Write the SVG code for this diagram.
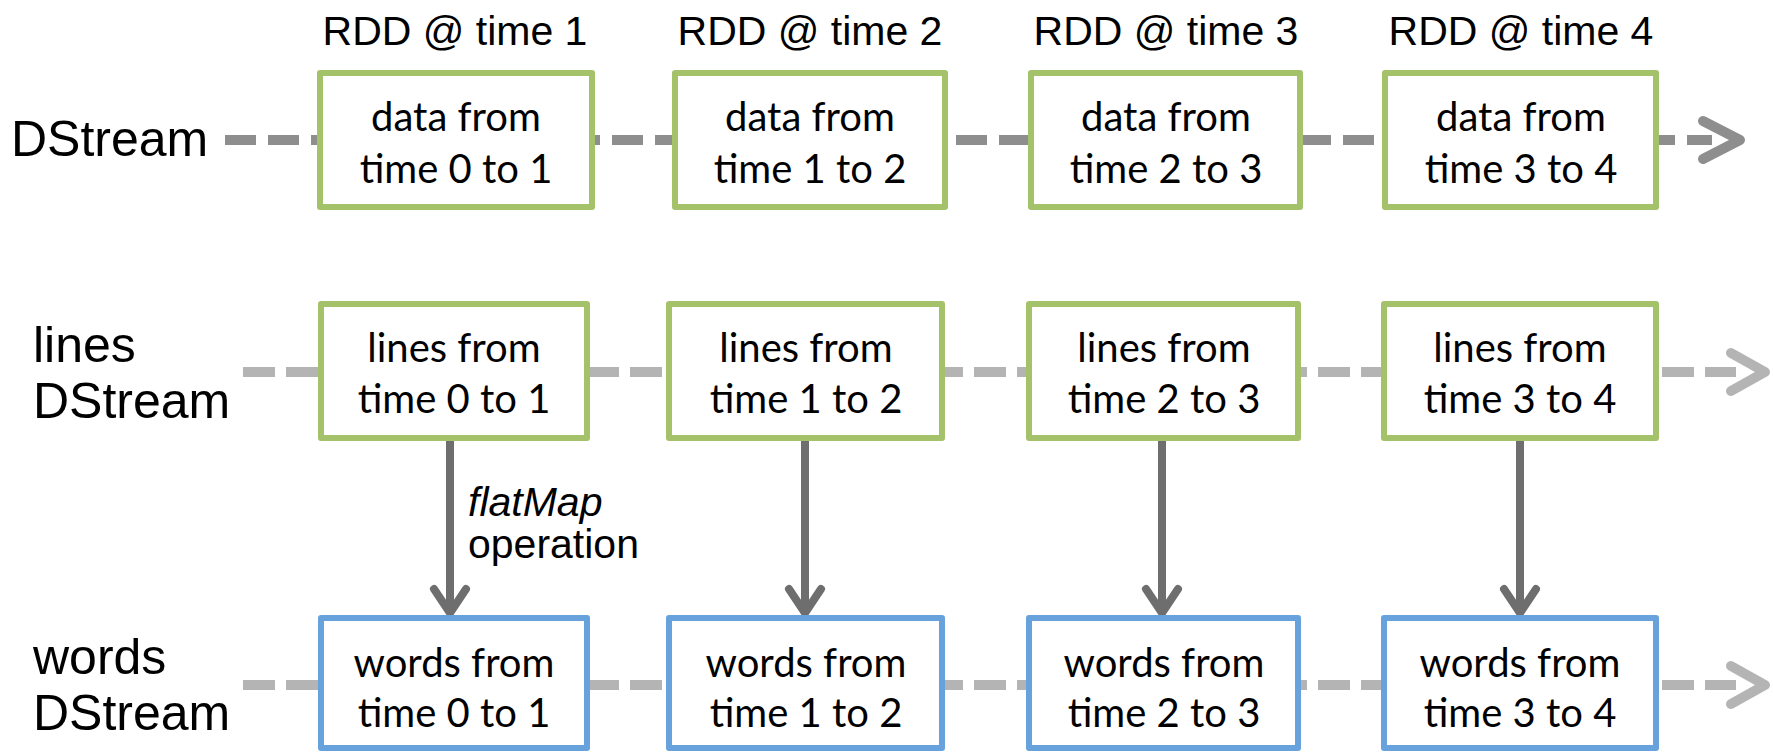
<svg xmlns="http://www.w3.org/2000/svg" width="1773" height="752" viewBox="0 0 1773 752">
  <style>
    .bg { fill: #ffffff; }
    .label { font-family: "Liberation Sans", Arial, sans-serif; font-size: 50px; fill: #000000; }
    .title { font-family: "Liberation Sans", Arial, sans-serif; font-size: 41px; fill: #000000; text-anchor: middle; }
    .op { font-family: "Liberation Sans", Arial, sans-serif; font-size: 41px; fill: #000000; }
    .boxtext { font-family: Lato, "Open Sans", sans-serif; font-size: 40px; fill: #000000; text-anchor: middle; }
    .rdd { fill: #ffffff; stroke: #a4c26a; stroke-width: 6; stroke-linejoin: round; }
    .words { fill: #ffffff; stroke: #67a2dd; stroke-width: 6; stroke-linejoin: round; }
    .stream-dark { fill: none; stroke: #8e8e8e; stroke-width: 10; stroke-dasharray: 31 12; }
    .stream-light { fill: none; stroke: #b4b4b4; stroke-width: 10; stroke-dasharray: 32 11; }
    .head-dark { fill: none; stroke: #8e8e8e; stroke-width: 10; stroke-linecap: round; stroke-linejoin: round; }
    .head-light { fill: none; stroke: #b4b4b4; stroke-width: 10; stroke-linecap: round; stroke-linejoin: round; }
    .map { fill: none; stroke: #6e6e6e; stroke-width: 8; }
    .map-head { fill: none; stroke: #6e6e6e; stroke-width: 8; stroke-linecap: round; stroke-linejoin: round; }
  </style>

  <rect class="bg" x="0" y="0" width="1773" height="752"/>

  <!-- stream timelines and flatMap arrows -->
  <g id="connectors">
    <line class="stream-dark" x1="225" y1="140" x2="1712" y2="140"/>
    <polyline class="head-dark" points="1703,121 1740,140 1703,159"/>

    <line class="stream-light" x1="243" y1="372" x2="1736" y2="372"/>
    <polyline class="head-light" points="1731,353 1765,372 1731,391"/>

    <line class="stream-light" x1="243" y1="685" x2="1736" y2="685"/>
    <polyline class="head-light" points="1731,666 1765,685 1731,704"/>

    <line class="map" x1="450" y1="441" x2="450" y2="612"/>
    <polyline class="map-head" points="434,589 450,613 466,589"/>
    <line class="map" x1="805" y1="441" x2="805" y2="612"/>
    <polyline class="map-head" points="789,589 805,613 821,589"/>
    <line class="map" x1="1162" y1="441" x2="1162" y2="612"/>
    <polyline class="map-head" points="1146,589 1162,613 1178,589"/>
    <line class="map" x1="1520" y1="441" x2="1520" y2="612"/>
    <polyline class="map-head" points="1504,589 1520,613 1536,589"/>
  </g>

  <!-- row labels -->
  <g id="label-dstream">
    <text class="label" x="11" y="156">DStream</text>
  </g>
  <g id="label-lines">
    <text class="label" x="33" y="362">lines</text>
    <text class="label" x="33" y="418">DStream</text>
  </g>
  <g id="label-words">
    <text class="label" x="33" y="674">words</text>
    <text class="label" x="33" y="730">DStream</text>
  </g>

  <!-- column titles -->
  <g id="title-1"><text class="title" x="455" y="45">RDD @ time 1</text></g>
  <g id="title-2"><text class="title" x="810" y="45">RDD @ time 2</text></g>
  <g id="title-3"><text class="title" x="1166" y="45">RDD @ time 3</text></g>
  <g id="title-4"><text class="title" x="1521" y="45">RDD @ time 4</text></g>

  <!-- input DStream RDDs -->
  <g id="data-1">
    <rect class="rdd" x="320" y="73" width="272" height="134"/>
    <text class="boxtext" x="456" y="131">data from</text>
    <text class="boxtext" x="456" y="183">time 0 to 1</text>
  </g>
  <g id="data-2">
    <rect class="rdd" x="675" y="73" width="270" height="134"/>
    <text class="boxtext" x="810" y="131">data from</text>
    <text class="boxtext" x="810" y="183">time 1 to 2</text>
  </g>
  <g id="data-3">
    <rect class="rdd" x="1031" y="73" width="269" height="134"/>
    <text class="boxtext" x="1166" y="131">data from</text>
    <text class="boxtext" x="1166" y="183">time 2 to 3</text>
  </g>
  <g id="data-4">
    <rect class="rdd" x="1385" y="73" width="271" height="134"/>
    <text class="boxtext" x="1521" y="131">data from</text>
    <text class="boxtext" x="1521" y="183">time 3 to 4</text>
  </g>

  <!-- lines DStream RDDs -->
  <g id="lines-1">
    <rect class="rdd" x="321" y="304" width="266" height="134"/>
    <text class="boxtext" x="454" y="362">lines from</text>
    <text class="boxtext" x="454" y="413">time 0 to 1</text>
  </g>
  <g id="lines-2">
    <rect class="rdd" x="669" y="304" width="273" height="134"/>
    <text class="boxtext" x="806" y="362">lines from</text>
    <text class="boxtext" x="806" y="413">time 1 to 2</text>
  </g>
  <g id="lines-3">
    <rect class="rdd" x="1029" y="304" width="269" height="134"/>
    <text class="boxtext" x="1164" y="362">lines from</text>
    <text class="boxtext" x="1164" y="413">time 2 to 3</text>
  </g>
  <g id="lines-4">
    <rect class="rdd" x="1384" y="304" width="272" height="134"/>
    <text class="boxtext" x="1520" y="362">lines from</text>
    <text class="boxtext" x="1520" y="413">time 3 to 4</text>
  </g>

  <!-- words DStream RDDs -->
  <g id="words-1">
    <rect class="words" x="321" y="618" width="266" height="130"/>
    <text class="boxtext" x="454" y="677">words from</text>
    <text class="boxtext" x="454" y="727">time 0 to 1</text>
  </g>
  <g id="words-2">
    <rect class="words" x="669" y="618" width="273" height="130"/>
    <text class="boxtext" x="806" y="677">words from</text>
    <text class="boxtext" x="806" y="727">time 1 to 2</text>
  </g>
  <g id="words-3">
    <rect class="words" x="1029" y="618" width="269" height="130"/>
    <text class="boxtext" x="1164" y="677">words from</text>
    <text class="boxtext" x="1164" y="727">time 2 to 3</text>
  </g>
  <g id="words-4">
    <rect class="words" x="1384" y="618" width="272" height="130"/>
    <text class="boxtext" x="1520" y="677">words from</text>
    <text class="boxtext" x="1520" y="727">time 3 to 4</text>
  </g>

  <!-- operation label on the first transform -->
  <g id="op-label">
    <text class="op" x="468" y="516" font-style="italic">flatMap</text>
    <text class="op" x="468" y="558">operation</text>
  </g>
</svg>
